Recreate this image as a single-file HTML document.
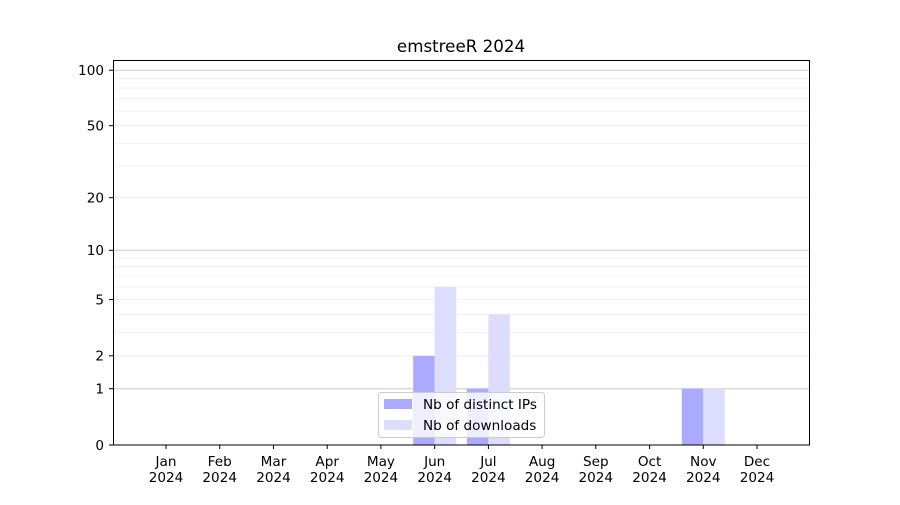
<!DOCTYPE html><html><head><style>body{margin:0;background:#fff}svg{font-family:"DejaVu Sans","Liberation Sans",sans-serif}</style></head><body>
<svg width="900" height="500" xmlns="http://www.w3.org/2000/svg">
<rect width="900" height="500" fill="#fff"/>
<g stroke="#eee" stroke-width="0.8">
<line x1="114" x2="809" y1="332.4" y2="332.4"/><line x1="114" x2="809" y1="314.3" y2="314.3"/>
<line x1="114" x2="809" y1="287" y2="287"/><line x1="114" x2="809" y1="276.1" y2="276.1"/>
<line x1="114" x2="809" y1="266.6" y2="266.6"/><line x1="114" x2="809" y1="258" y2="258"/>
<line x1="114" x2="809" y1="166.1" y2="166.1"/><line x1="114" x2="809" y1="143.4" y2="143.4"/>
<line x1="114" x2="809" y1="111.1" y2="111.1"/><line x1="114" x2="809" y1="98.8" y2="98.8"/>
<line x1="114" x2="809" y1="88.1" y2="88.1"/><line x1="114" x2="809" y1="78.7" y2="78.7"/>
<line x1="114" x2="809" y1="355.8" y2="355.8"/><line x1="114" x2="809" y1="299.5" y2="299.5"/>
<line x1="114" x2="809" y1="197.7" y2="197.7"/><line x1="114" x2="809" y1="125.7" y2="125.7"/>
</g>
<g stroke="#ccc" stroke-width="1">
<line x1="114" x2="809" y1="388.7" y2="388.7"/><line x1="114" x2="809" y1="250.3" y2="250.3"/><line x1="114" x2="809" y1="70.2" y2="70.2"/>
</g>
<g>
<rect x="413.2" y="355.8" width="21.5" height="89.2" fill="#aaaaff"/>
<rect x="434.7" y="287" width="21.5" height="158" fill="#ddddff"/>
<rect x="466.9" y="388.7" width="21.5" height="56.3" fill="#aaaaff"/>
<rect x="488.4" y="314.3" width="21.5" height="130.7" fill="#ddddff"/>
<rect x="681.8" y="388.7" width="21.5" height="56.3" fill="#aaaaff"/>
<rect x="703.3" y="388.7" width="21.5" height="56.3" fill="#ddddff"/>
</g>
<rect x="113.5" y="60.5" width="696" height="384.5" fill="none" stroke="#000" stroke-width="1"/>
<g stroke="#000">
<line x1="109" x2="113" y1="445" y2="445"/><line x1="109" x2="113" y1="388.7" y2="388.7"/>
<line x1="109" x2="113" y1="355.8" y2="355.8"/><line x1="109" x2="113" y1="299.5" y2="299.5"/>
<line x1="109" x2="113" y1="250.3" y2="250.3"/><line x1="109" x2="113" y1="197.7" y2="197.7"/>
<line x1="109" x2="113" y1="125.7" y2="125.7"/><line x1="109" x2="113" y1="70.2" y2="70.2"/>
</g>
<g font-size="13.6" text-anchor="end">
<text x="104" y="449.8">0</text><text x="104" y="393.5">1</text><text x="104" y="360.6">2</text>
<text x="104" y="304.3">5</text><text x="104" y="255.1">10</text><text x="104" y="202.5">20</text>
<text x="104" y="130.5">50</text><text x="104" y="75">100</text>
</g>
<g stroke="#000">
<line x1="166" x2="166" y1="445" y2="449"/><line x1="219.7" x2="219.7" y1="445" y2="449"/>
<line x1="273.5" x2="273.5" y1="445" y2="449"/><line x1="327.2" x2="327.2" y1="445" y2="449"/>
<line x1="380.9" x2="380.9" y1="445" y2="449"/><line x1="434.7" x2="434.7" y1="445" y2="449"/>
<line x1="488.4" x2="488.4" y1="445" y2="449"/><line x1="542.1" x2="542.1" y1="445" y2="449"/>
<line x1="595.8" x2="595.8" y1="445" y2="449"/><line x1="649.6" x2="649.6" y1="445" y2="449"/>
<line x1="703.3" x2="703.3" y1="445" y2="449"/><line x1="757" x2="757" y1="445" y2="449"/>
</g>
<g font-size="13.6" text-anchor="middle">
<text x="166" y="466">Jan</text><text x="166" y="482">2024</text>
<text x="219.7" y="466">Feb</text><text x="219.7" y="482">2024</text>
<text x="273.5" y="466">Mar</text><text x="273.5" y="482">2024</text>
<text x="327.2" y="466">Apr</text><text x="327.2" y="482">2024</text>
<text x="380.9" y="466">May</text><text x="380.9" y="482">2024</text>
<text x="434.7" y="466">Jun</text><text x="434.7" y="482">2024</text>
<text x="488.4" y="466">Jul</text><text x="488.4" y="482">2024</text>
<text x="542.1" y="466">Aug</text><text x="542.1" y="482">2024</text>
<text x="595.8" y="466">Sep</text><text x="595.8" y="482">2024</text>
<text x="649.6" y="466">Oct</text><text x="649.6" y="482">2024</text>
<text x="703.3" y="466">Nov</text><text x="703.3" y="482">2024</text>
<text x="757" y="466">Dec</text><text x="757" y="482">2024</text>
</g>
<text x="461" y="52" font-size="16.7" text-anchor="middle">emstreeR 2024</text>
<g>
<rect x="378.5" y="392.5" width="166" height="45" rx="3" fill="#fff" fill-opacity="0.8" stroke="#ccc"/>
<rect x="384" y="399" width="28" height="10" fill="#aaaaff"/>
<rect x="384" y="420" width="28" height="10" fill="#ddddff"/>
<text x="423" y="409" font-size="13.6">Nb of distinct IPs</text>
<text x="423" y="430" font-size="13.6">Nb of downloads</text>
</g>
</svg></body></html>
